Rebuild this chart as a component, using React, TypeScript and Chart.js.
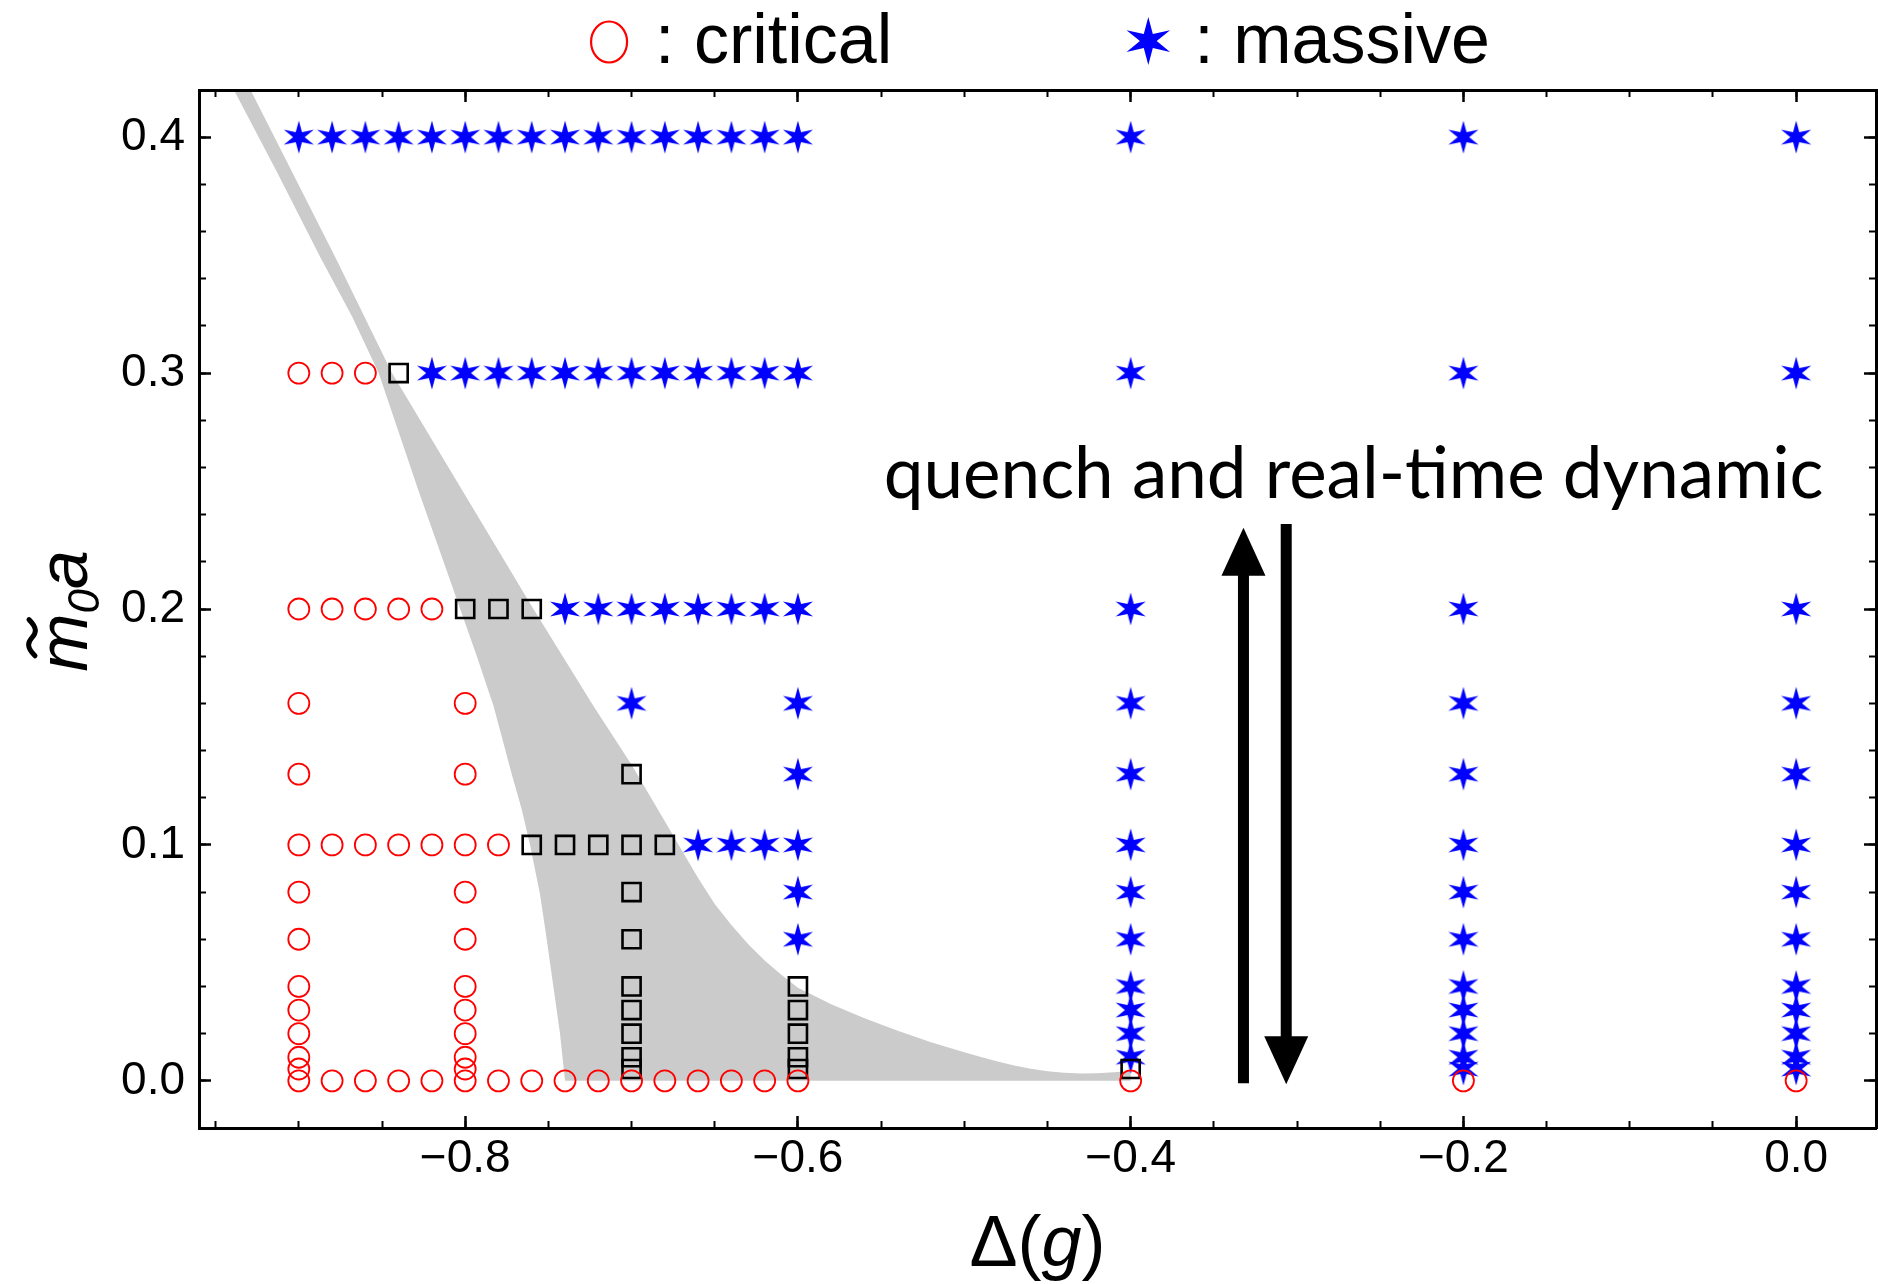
import React, { useEffect, useRef } from "react";
import { Chart, registerables } from "chart.js";

Chart.register(...registerables);

// Axis ranges
const X_MIN = -0.96;
const X_MAX = 0.048;
const Y_MIN = -0.02;
const Y_MAX = 0.42;

// Tick spacing
const X_MAJOR_STEP = 0.2;
const X_MINOR_STEP = 0.05;
const Y_MAJOR_STEP = 0.1;
const Y_MINOR_STEP = 0.02;

// Critical runs (red circles): [m0 a, Δ(g) values on that row]
const criticalRows: [number, number[]][] = [
  [0.0, [-0.9, -0.88, -0.86, -0.84, -0.82, -0.8, -0.78, -0.76, -0.74, -0.72, -0.7, -0.68, -0.66, -0.64, -0.62, -0.6, -0.4, -0.2, 0.0]],
  [0.005, [-0.9, -0.8]],
  [0.01, [-0.9, -0.8]],
  [0.02, [-0.9, -0.8]],
  [0.03, [-0.9, -0.8]],
  [0.04, [-0.9, -0.8]],
  [0.06, [-0.9, -0.8]],
  [0.08, [-0.9, -0.8]],
  [0.1, [-0.9, -0.88, -0.86, -0.84, -0.82, -0.8, -0.78]],
  [0.13, [-0.9, -0.8]],
  [0.16, [-0.9, -0.8]],
  [0.2, [-0.9, -0.88, -0.86, -0.84, -0.82]],
  [0.3, [-0.9, -0.88, -0.86]],
];

// Undetermined runs (black squares)
const undeterminedRows: [number, number[]][] = [
  [0.005, [-0.7, -0.6, -0.4]],
  [0.01, [-0.7, -0.6]],
  [0.02, [-0.7, -0.6]],
  [0.03, [-0.7, -0.6]],
  [0.04, [-0.7, -0.6]],
  [0.06, [-0.7]],
  [0.08, [-0.7]],
  [0.1, [-0.76, -0.74, -0.72, -0.7, -0.68]],
  [0.13, [-0.7]],
  [0.2, [-0.8, -0.78, -0.76]],
  [0.3, [-0.84]],
];

// Massive runs (blue stars)
const massiveRows: [number, number[]][] = [
  [0.005, [-0.2, 0.0]],
  [0.01, [-0.4, -0.2, 0.0]],
  [0.02, [-0.4, -0.2, 0.0]],
  [0.03, [-0.4, -0.2, 0.0]],
  [0.04, [-0.4, -0.2, 0.0]],
  [0.06, [-0.6, -0.4, -0.2, 0.0]],
  [0.08, [-0.6, -0.4, -0.2, 0.0]],
  [0.1, [-0.66, -0.64, -0.62, -0.6, -0.4, -0.2, 0.0]],
  [0.13, [-0.6, -0.4, -0.2, 0.0]],
  [0.16, [-0.7, -0.6, -0.4, -0.2, 0.0]],
  [0.2, [-0.74, -0.72, -0.7, -0.68, -0.66, -0.64, -0.62, -0.6, -0.4, -0.2, 0.0]],
  [0.3, [-0.82, -0.8, -0.78, -0.76, -0.74, -0.72, -0.7, -0.68, -0.66, -0.64, -0.62, -0.6, -0.4, -0.2, 0.0]],
  [0.4, [-0.9, -0.88, -0.86, -0.84, -0.82, -0.8, -0.78, -0.76, -0.74, -0.72, -0.7, -0.68, -0.66, -0.64, -0.62, -0.6, -0.4, -0.2, 0.0]],
];

// Shaded crossover region, traced round its outline:
// lower-left edge downwards, along m0 a = 0, then the upper-right edge back up
const bandX = [
  -0.961, -0.939, -0.913, -0.887, -0.868, -0.852, -0.84, -0.828, -0.813, -0.803, -0.793, -0.783,
  -0.772, -0.766, -0.761, -0.755, -0.751, -0.747, -0.745, -0.743, -0.74,
  -0.4, -0.4,
  -0.41, -0.42, -0.43, -0.44, -0.45, -0.46, -0.47, -0.48, -0.49, -0.5, -0.52, -0.54, -0.56, -0.58,
  -0.6, -0.61, -0.62, -0.63, -0.64, -0.65, -0.66, -0.67, -0.68, -0.69, -0.7, -0.723,
  -0.759, -0.776, -0.81, -0.844, -0.878, -0.929, -0.95,
];
const bandY = [
  0.45, 0.42, 0.385, 0.349, 0.324, 0.3, 0.275, 0.25, 0.22, 0.2, 0.18, 0.159,
  0.13, 0.115, 0.1, 0.079, 0.06, 0.04, 0.03, 0.02, 0.0,
  0.0, 0.0042,
  0.0036, 0.0032, 0.0031, 0.0034, 0.0041, 0.0051, 0.0065, 0.0082, 0.0101, 0.0121, 0.0164, 0.0212, 0.0265, 0.0325,
  0.0395, 0.045, 0.051, 0.058, 0.066, 0.075, 0.086, 0.098, 0.11, 0.122, 0.134, 0.159,
  0.2, 0.22, 0.26, 0.3, 0.349, 0.42, 0.45,
];

// Quench annotation
const QUENCH_LABEL = "quench and real-time dynamic";
const quenchLabelAt = { x: -0.266, y: 0.2471 };
const quenchUp = { x: -0.3322, from: -0.001, to: 0.2344 };
const quenchDown = { x: -0.3065, from: 0.236, to: -0.0015 };

// Legend entries
const LEGEND_CRITICAL = ": critical";
const LEGEND_MASSIVE = ": massive";

const FONT = "'Liberation Sans', Arial, Helvetica, sans-serif";
const RED = "#ff0000";
const BLUE = "#0000ff";
const BAND_GREY = "rgb(203,203,203)";

const toPoints = (rows: [number, number[]][]) =>
  rows.flatMap(([y, xs]) => xs.map((x) => ({ x, y })));

// Six-pointed star: long vertical spikes, four slanted arms
function starPath(ctx: CanvasRenderingContext2D, cx: number, cy: number, s: number) {
  const outer: [number, number][] = [
    [0, -16.5], [15, -7.5], [15, 7.5], [0, 16.5], [-15, 7.5], [-15, -7.5],
  ];
  const inner = 5.8;
  const innerAngles = [-57.5, 0, 57.5, 122.5, 180, 237.5].map((a) => (a * Math.PI) / 180);
  ctx.beginPath();
  for (let i = 0; i < 6; i++) {
    const [ox, oy] = outer[i];
    if (i === 0) ctx.moveTo(cx + ox * s, cy + oy * s);
    else ctx.lineTo(cx + ox * s, cy + oy * s);
    const a = innerAngles[i];
    ctx.lineTo(cx + Math.cos(a) * inner * s, cy + Math.sin(a) * inner * s);
  }
  ctx.closePath();
}

function makeStarImage(scale: number) {
  const w = Math.ceil(34 * scale);
  const h = Math.ceil(36 * scale);
  const c = document.createElement("canvas");
  c.width = w;
  c.height = h;
  const g = c.getContext("2d")!;
  g.fillStyle = BLUE;
  starPath(g, w / 2, h / 2, scale);
  g.fill();
  return c;
}

type Run = { text: string; font: string; dy?: number };

function drawRuns(ctx: CanvasRenderingContext2D, runs: Run[], cx: number, baseline: number) {
  const widths = runs.map((r) => {
    ctx.font = r.font;
    return ctx.measureText(r.text).width;
  });
  const total = widths.reduce((a, b) => a + b, 0);
  let x = cx - total / 2;
  const starts: number[] = [];
  runs.forEach((r, i) => {
    ctx.font = r.font;
    starts.push(x);
    ctx.fillText(r.text, x, baseline + (r.dy || 0));
    x += widths[i];
  });
  return { starts, widths };
}

function drawArrow(ctx: CanvasRenderingContext2D, x: number, y0: number, y1: number) {
  const dir = Math.sign(y1 - y0);
  const headLen = 48;
  const headHalf = 22;
  ctx.lineWidth = 11;
  ctx.lineCap = "butt";
  ctx.beginPath();
  ctx.moveTo(x, y0);
  ctx.lineTo(x, y1 - dir * (headLen - 2));
  ctx.stroke();
  ctx.beginPath();
  ctx.moveTo(x, y1);
  ctx.lineTo(x - headHalf, y1 - dir * headLen);
  ctx.lineTo(x + headHalf, y1 - dir * headLen);
  ctx.closePath();
  ctx.fill();
}

const overlayPlugin = {
  id: "phaseOverlay",
  afterDraw(chart: any) {
    const { ctx, chartArea, scales } = chart;
    const xs = scales.x;
    const ys = scales.y;
    ctx.save();
    ctx.fillStyle = "#000";
    ctx.strokeStyle = "#000";
    ctx.textAlign = "left";
    ctx.textBaseline = "alphabetic";

    // legend row above the frame
    const legendFont = `70px ${FONT}`;
    ctx.font = legendFont;
    const w1 = ctx.measureText(LEGEND_CRITICAL).width;
    const w2 = ctx.measureText(LEGEND_MASSIVE).width;
    const markW1 = 40;
    const markW2 = 44;
    const total = markW1 + 26 + w1 + 234 + markW2 + 24 + w2;
    let lx = (chartArea.left + chartArea.right) / 2 + 2 - total / 2;
    const legendBase = 63;
    ctx.save();
    ctx.strokeStyle = RED;
    ctx.lineWidth = 2.2;
    ctx.beginPath();
    ctx.ellipse(lx + markW1 / 2, 42, 18, 20.5, 0, 0, Math.PI * 2);
    ctx.stroke();
    ctx.restore();
    lx += markW1 + 26;
    ctx.fillText(LEGEND_CRITICAL, lx, legendBase);
    lx += w1 + 234;
    ctx.save();
    ctx.fillStyle = BLUE;
    starPath(ctx, lx + markW2 / 2, 41, 1.45);
    ctx.fill();
    ctx.restore();
    lx += markW2 + 24;
    ctx.fillText(LEGEND_MASSIVE, lx, legendBase);

    // x axis title: Δ(g)
    const xTitleFont = `72px ${FONT}`;
    const xTitleItalic = `italic 72px ${FONT}`;
    drawRuns(
      ctx,
      [
        { text: "Δ(", font: xTitleFont },
        { text: "g", font: xTitleItalic },
        { text: ")", font: xTitleFont },
      ],
      (chartArea.left + chartArea.right) / 2,
      1266
    );

    // y axis title: m̃0 a, rotated
    ctx.save();
    ctx.translate(87, (chartArea.top + chartArea.bottom) / 2 + 2);
    ctx.rotate(-Math.PI / 2);
    const yItalic = `italic 70px ${FONT}`;
    const ySub = `italic 44px ${FONT}`;
    const { starts, widths } = drawRuns(
      ctx,
      [
        { text: "m", font: yItalic },
        { text: "0", font: ySub, dy: 12 },
        { text: "a", font: yItalic },
      ],
      0,
      0
    );
    // tilde over the m
    const mx = starts[0] + widths[0] / 2 + 5;
    const ty = -55;
    const tw = widths[0] * 0.62;
    ctx.lineWidth = 5;
    ctx.lineCap = "round";
    ctx.beginPath();
    ctx.moveTo(mx - tw / 2, ty + 3);
    ctx.bezierCurveTo(mx - tw / 4, ty - 6, mx - tw / 8, ty - 4, mx, ty);
    ctx.bezierCurveTo(mx + tw / 8, ty + 4, mx + tw / 4, ty + 6, mx + tw / 2, ty - 3);
    ctx.stroke();
    ctx.restore();

    // quench annotation text and arrows
    ctx.font = `71px Lato, 'Open Sans', sans-serif`;
    ctx.textAlign = "center";
    ctx.fillText(QUENCH_LABEL, xs.getPixelForValue(quenchLabelAt.x), ys.getPixelForValue(quenchLabelAt.y));
    drawArrow(ctx, xs.getPixelForValue(quenchUp.x), ys.getPixelForValue(quenchUp.from), ys.getPixelForValue(quenchUp.to));
    drawArrow(ctx, xs.getPixelForValue(quenchDown.x), ys.getPixelForValue(quenchDown.from), ys.getPixelForValue(quenchDown.to));

    ctx.restore();
  },
};

const fmtX = (v: number) => {
  if (Math.abs(v) < 1e-9) return "0.0";
  return (v < 0 ? "\u2212" : "") + Math.abs(v).toFixed(1);
};
const fmtY = (v: number) => (Math.abs(v) < 1e-9 ? "0.0" : v.toFixed(1));

function axis(position: string, range: [number, number], step: number, major: boolean, extra: any = {}) {
  const horizontal = position === "top" || position === "bottom";
  return {
    type: "linear",
    position,
    min: range[0],
    max: range[1],
    weight: major ? 0 : -1,
    border: { display: major, color: "#000", width: 3, z: 1 },
    grid: {
      display: true,
      drawOnChartArea: false,
      drawTicks: true,
      tickLength: major ? -12 : -7,
      tickWidth: major ? 2.5 : 2,
      tickColor: "#000",
      z: 1,
    },
    ticks: {
      display: false,
      stepSize: step,
      includeBounds: false,
      autoSkip: false,
      maxRotation: 0,
      ...(extra.ticks || {}),
    },
    afterFit: (s: any) => {
      if (horizontal) s.height = extra.size || 0;
      else s.width = extra.size || 0;
      // keep the frame fixed: no extra room for overhanging labels
      s.paddingLeft = 0;
      s.paddingRight = 0;
      s.paddingTop = 0;
      s.paddingBottom = 0;
    },
  };
}

export default function App() {
  const canvasRef = useRef<HTMLCanvasElement>(null);

  useEffect(() => {
    const canvas = canvasRef.current;
    if (!canvas) return;

    const circleData = toPoints(criticalRows);
    const squareData = toPoints(undeterminedRows);
    const starData = toPoints(massiveRows);
    const bandData = bandX.map((x, i) => ({ x, y: bandY[i] }));
    const starImage = makeStarImage(1);

    const tickFont = { family: FONT, size: 46 };
    const xr: [number, number] = [X_MIN, X_MAX];
    const yr: [number, number] = [Y_MIN, Y_MAX];

    const chart = new Chart(canvas, {
      type: "scatter",
      data: {
        datasets: [
          {
            label: "critical",
            data: circleData,
            pointStyle: "circle",
            pointRadius: 10.5,
            borderWidth: 1.8,
            borderColor: RED,
            backgroundColor: "rgba(0,0,0,0)",
            order: 0,
          },
          {
            label: "undetermined",
            data: squareData,
            pointStyle: "rect",
            pointRadius: 12.8,
            borderWidth: 2.6,
            borderColor: "#000",
            backgroundColor: "rgba(0,0,0,0)",
            order: 1,
          },
          {
            label: "massive",
            data: starData,
            pointStyle: starImage,
            pointRadius: 16,
            order: 2,
          },
          {
            type: "line",
            label: "crossover",
            data: bandData,
            showLine: true,
            fill: "shape",
            tension: 0,
            pointRadius: 0,
            borderWidth: 0,
            borderColor: "rgba(0,0,0,0)",
            backgroundColor: BAND_GREY,
            order: 3,
          } as any,
        ],
      },
      options: {
        responsive: false,
        animation: false,
        devicePixelRatio: 1,
        events: [],
        layout: { autoPadding: false, padding: { left: 0, top: 90, right: 2, bottom: 0 } },
        plugins: {
          legend: { display: false },
          tooltip: { enabled: false },
          title: { display: false },
        },
        scales: {
          x: axis("bottom", xr, X_MAJOR_STEP, true, {
            size: 156,
            ticks: { display: true, padding: 16, font: tickFont, color: "#000", callback: (v: any) => fmtX(Number(v)) },
          }),
          xMinor: axis("bottom", xr, X_MINOR_STEP, false),
          xTop: axis("top", xr, X_MAJOR_STEP, true),
          xTopMinor: axis("top", xr, X_MINOR_STEP, false),
          y: axis("left", yr, Y_MAJOR_STEP, true, {
            size: 199,
            ticks: { display: true, padding: 26, font: tickFont, color: "#000", callback: (v: any) => fmtY(Number(v)) },
          }),
          yMinor: axis("left", yr, Y_MINOR_STEP, false),
          yRight: axis("right", yr, Y_MAJOR_STEP, true),
          yRightMinor: axis("right", yr, Y_MINOR_STEP, false),
        } as any,
      },
      plugins: [overlayPlugin],
    } as any);

    return () => chart.destroy();
  }, []);

  return (
    <div style={{ position: "fixed", left: 0, top: 0, width: 1878, height: 1284, background: "#fff" }}>
      <canvas ref={canvasRef} width={1878} height={1284} style={{ display: "block" }} />
    </div>
  );
}
